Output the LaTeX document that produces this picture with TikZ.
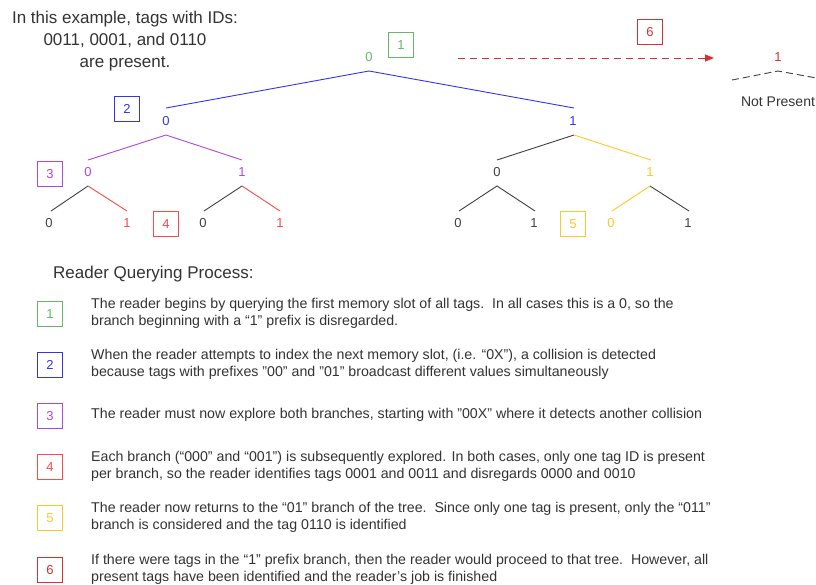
\documentclass[tikz,border=0pt]{standalone}
\usepackage{fontspec}
\setmainfont{Liberation Sans}
\usetikzlibrary{arrows.meta}

\definecolor{txt}{HTML}{333333}
\definecolor{cgreen}{HTML}{66B866}
\definecolor{cblue}{HTML}{3333F0}
\definecolor{cpurple}{HTML}{B048E0}
\definecolor{cred}{HTML}{FF4848}
\definecolor{cdred}{HTML}{D83030}
\definecolor{cyellow}{HTML}{FFC828}
\definecolor{cgray}{HTML}{404040}

\tikzset{
  stepbox/.style={draw=#1, text=#1, line width=1.1pt, minimum width=25pt, minimum height=25pt, inner sep=0pt, font=\fontsize{13}{15}\selectfont},
  bit/.style={text=#1, inner sep=0pt, font=\fontsize{13}{15}\selectfont},
  branch/.style={draw=#1, line width=0.9pt},
  desc/.style={anchor=west, text=txt, align=left, inner sep=0pt, font=\fontsize{14.2}{17}\selectfont},
}

\begin{document}
\begin{tikzpicture}[x=1pt, y=-1pt]
\useasboundingbox (0,0) rectangle (816,584);
\fill[white] (0,0) rectangle (816,584);

% heading
\node[text=txt, align=center, inner sep=0pt, font=\fontsize{17}{22}\selectfont] (intro) at (125,41)
  {In this example, tags with IDs:\\0011, 0001, and 0110\\are present.};

% tree junction points
\coordinate (r)   at (369,71);
\coordinate (aL)  at (166,108);
\coordinate (aR)  at (574,108);
\coordinate (j0)  at (166,135);
\coordinate (j1)  at (574,135);
\coordinate (b00) at (88,160);
\coordinate (b01) at (242,160);
\coordinate (b10) at (497,160);
\coordinate (b11) at (651,160);
\coordinate (k00) at (88,186);
\coordinate (k01) at (242,186);
\coordinate (k10) at (497,186);
\coordinate (k11) at (650,186);
\coordinate (c000) at (51,211);
\coordinate (c001) at (127,211);
\coordinate (c010) at (204,211);
\coordinate (c011) at (280,211);
\coordinate (c100) at (459,211);
\coordinate (c101) at (535,211);
\coordinate (c110) at (612,211);
\coordinate (c111) at (689,211);

% branches
\draw[branch=cblue] (aL) -- (r) -- (aR);
\draw[branch=cpurple] (b00) -- (j0) -- (b01);
\draw[branch=cgray] (b10) -- (j1);
\draw[branch=cyellow] (j1) -- (b11);
\draw[branch=cgray] (c000) -- (k00);
\draw[branch=cred] (k00) -- (c001);
\draw[branch=cgray] (c010) -- (k01);
\draw[branch=cred] (k01) -- (c011);
\draw[branch=cgray] (c100) -- (k10) -- (c101);
\draw[branch=cyellow] (c110) -- (k11);
\draw[branch=cgray] (k11) -- (c111);

% bit labels
\node[bit=cgreen] (n0) at (369,57) {0};
\node[bit=cblue] (n00) at (166,121) {0};
\node[bit=cblue] (n01) at (573,121) {1};
\node[bit=cpurple] (n000) at (88,172) {0};
\node[bit=cpurple] (n001) at (242,172) {1};
\node[bit=cgray] (n010) at (497,172) {0};
\node[bit=cyellow] (n011) at (650,172) {1};
\node[bit=cgray] (m0000) at (49,223) {0};
\node[bit=cred] (m0001) at (127,223) {1};
\node[bit=cgray] (m0010) at (203,223) {0};
\node[bit=cred] (m0011) at (280,223) {1};
\node[bit=cgray] (m0100) at (458,223) {0};
\node[bit=cgray] (m0101) at (534,223) {1};
\node[bit=cyellow] (m0110) at (611,223) {0};
\node[bit=cgray] (m0111) at (688,223) {1};

% step markers on the tree
\node[stepbox=cgreen] (t1) at (401,45) {1};
\node[stepbox=cblue] (t2) at (127,109) {2};
\node[stepbox=cpurple] (t3) at (50,174) {3};
\node[stepbox=cred] (t4) at (166,224) {4};
\node[stepbox=cyellow] (t5) at (573,224) {5};
\node[stepbox=cdred] (t6) at (650,32) {6};

% jump to the "1" prefix tree
\coordinate (gs) at (458,58);
\coordinate (ge) at (714,58);
\draw[draw=cdred, line width=1pt, dash pattern=on 7pt off 5pt, -{Triangle[length=9pt,width=7pt]}] (gs) -- (ge);

\node[bit=cdred] (p1) at (778,57) {1};
\coordinate (pr) at (778,71);
\coordinate (pl) at (732,80);
\coordinate (pe) at (822,79);
\draw[branch=cgray, dash pattern=on 7pt off 4pt] (pl) -- (pr) -- (pe);
\node[text=txt, inner sep=0pt, font=\fontsize{14}{16}\selectfont] (np) at (778,102) {Not Present};

% legend
\node[anchor=west, text=txt, inner sep=0pt, font=\fontsize{17}{20}\selectfont] (legend) at (53,274) {Reader Querying Process:};

\node[stepbox=cgreen] (s1) at (50,314) {1};
\node[stepbox=cblue] (s2) at (50,365) {2};
\node[stepbox=cpurple] (s3) at (50,416) {3};
\node[stepbox=cred] (s4) at (50,467) {4};
\node[stepbox=cyellow] (s5) at (50,518) {5};
\node[stepbox=cdred] (s6) at (50,570) {6};

\node[desc] (d1) at (91,313.5) {The reader begins by querying the first memory slot of all tags.\ \ In all cases this is a 0, so the\\branch beginning with a “1” prefix is disregarded.};
\node[desc] (d2) at (91,364.5) {When the reader attempts to index the next memory slot, (i.e. “0X”), a collision is detected\\because tags with prefixes "00" and "01" broadcast different values simultaneously};
\node[desc] (d3) at (91,415) {The reader must now explore both branches, starting with "00X" where it detects another collision};
\node[desc] (d4) at (91,466.5) {Each branch (“000” and “001”) is subsequently explored. In both cases, only one tag ID is present\\per branch, so the reader identifies tags 0001 and 0011 and disregards 0000 and 0010};
\node[desc] (d5) at (91,517.5) {The reader now returns to the “01” branch of the tree.\ \ Since only one tag is present, only the “011”\\branch is considered and the tag 0110 is identified};
\node[desc] (d6) at (91,569) {If there were tags in the “1” prefix branch, then the reader would proceed to that tree.\ \ However, all\\present tags have been identified and the reader’s job is finished};
\end{tikzpicture}
\end{document}
